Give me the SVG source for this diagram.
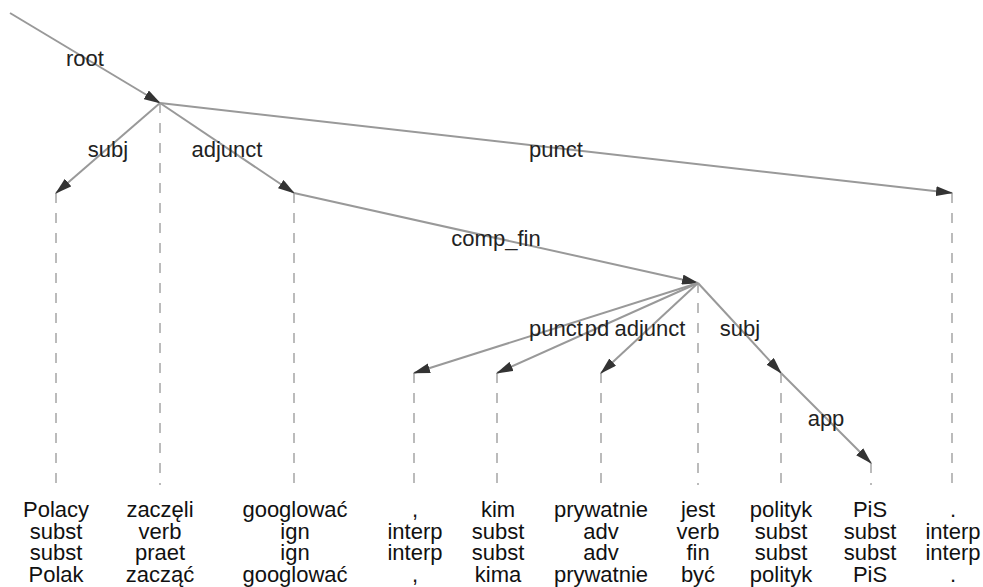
<svg xmlns="http://www.w3.org/2000/svg" width="983" height="587" viewBox="0 0 983 587">
<style>
.edge{stroke:#999;stroke-width:2;fill:none;marker-end:url(#ah)}
.stem{stroke:#bbb;stroke-width:2;stroke-dasharray:10 10;fill:none}
.lbl{font-family:"Liberation Sans",Arial,sans-serif;font-size:22px;fill:#222;text-anchor:middle}
.tok{font-family:"Liberation Sans",Arial,sans-serif;font-size:22px;fill:#111;text-anchor:middle}
</style>
<defs>
<marker id="ah" markerUnits="userSpaceOnUse" markerWidth="17" markerHeight="10" viewBox="0 0 17 10" refX="16" refY="5" orient="auto">
<path d="M0,0 L17,5 L0,10 z" fill="#333"/>
</marker>
</defs>
<rect width="983" height="587" fill="#fff"/>
<g id="stems">
<line class="stem" x1="56" y1="193" x2="56" y2="485"/>
<line class="stem" x1="160" y1="103" x2="160" y2="485"/>
<line class="stem" x1="294" y1="193" x2="294" y2="485"/>
<line class="stem" x1="414" y1="373" x2="414" y2="485"/>
<line class="stem" x1="497" y1="373" x2="497" y2="485"/>
<line class="stem" x1="601" y1="373" x2="601" y2="485"/>
<line class="stem" x1="698" y1="283" x2="698" y2="485"/>
<line class="stem" x1="781" y1="373" x2="781" y2="485"/>
<line class="stem" x1="871" y1="463" x2="871" y2="485"/>
<line class="stem" x1="952" y1="193" x2="952" y2="485"/>
</g>
<g id="connectors">
<line class="edge" x1="10" y1="13" x2="160" y2="103"/>
<line class="edge" x1="160" y1="103" x2="56" y2="193"/>
<line class="edge" x1="160" y1="103" x2="294" y2="193"/>
<line class="edge" x1="160" y1="103" x2="952" y2="193"/>
<line class="edge" x1="294" y1="193" x2="698" y2="283"/>
<line class="edge" x1="698" y1="283" x2="414" y2="373"/>
<line class="edge" x1="698" y1="283" x2="497" y2="373"/>
<line class="edge" x1="698" y1="283" x2="601" y2="373"/>
<line class="edge" x1="698" y1="283" x2="781" y2="373"/>
<line class="edge" x1="781" y1="373" x2="871" y2="463"/>
<text class="lbl" x="85" y="66">root</text>
<text class="lbl" x="108" y="157">subj</text>
<text class="lbl" x="227" y="157">adjunct</text>
<text class="lbl" x="556" y="157">punct</text>
<text class="lbl" x="496" y="246">comp_fin</text>
<text class="lbl" x="556" y="336">punct</text>
<text class="lbl" x="597" y="336">pd</text>
<text class="lbl" x="650" y="336">adjunct</text>
<text class="lbl" x="740" y="336">subj</text>
<text class="lbl" x="826" y="426">app</text>
</g>
<g id="n1"><text class="tok" x="56" y="517">Polacy</text><text class="tok" x="56" y="539">subst</text><text class="tok" x="56" y="560">subst</text><text class="tok" x="56" y="582">Polak</text></g>
<g id="n2"><text class="tok" x="160" y="517">zaczęli</text><text class="tok" x="160" y="539">verb</text><text class="tok" x="160" y="560">praet</text><text class="tok" x="160" y="582">zacząć</text></g>
<g id="n3"><text class="tok" x="295" y="517">googlować</text><text class="tok" x="295" y="539">ign</text><text class="tok" x="295" y="560">ign</text><text class="tok" x="295" y="582">googlować</text></g>
<g id="n4"><text class="tok" x="415" y="517">,</text><text class="tok" x="415" y="539">interp</text><text class="tok" x="415" y="560">interp</text><text class="tok" x="415" y="582">,</text></g>
<g id="n5"><text class="tok" x="498" y="517">kim</text><text class="tok" x="498" y="539">subst</text><text class="tok" x="498" y="560">subst</text><text class="tok" x="498" y="582">kima</text></g>
<g id="n6"><text class="tok" x="601" y="517">prywatnie</text><text class="tok" x="601" y="539">adv</text><text class="tok" x="601" y="560">adv</text><text class="tok" x="601" y="582">prywatnie</text></g>
<g id="n7"><text class="tok" x="698" y="517">jest</text><text class="tok" x="698" y="539">verb</text><text class="tok" x="698" y="560">fin</text><text class="tok" x="698" y="582">być</text></g>
<g id="n8"><text class="tok" x="781" y="517">polityk</text><text class="tok" x="781" y="539">subst</text><text class="tok" x="781" y="560">subst</text><text class="tok" x="781" y="582">polityk</text></g>
<g id="n9"><text class="tok" x="870" y="517">PiS</text><text class="tok" x="870" y="539">subst</text><text class="tok" x="870" y="560">subst</text><text class="tok" x="870" y="582">PiS</text></g>
<g id="n10"><text class="tok" x="953" y="517">.</text><text class="tok" x="953" y="539">interp</text><text class="tok" x="953" y="560">interp</text><text class="tok" x="953" y="582">.</text></g>
</svg>
